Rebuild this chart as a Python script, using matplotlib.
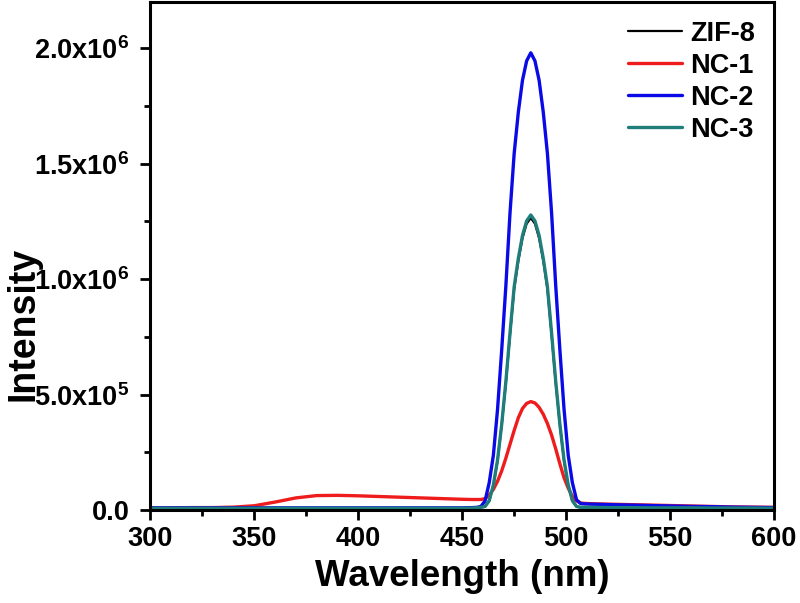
import matplotlib
matplotlib.use("Agg")
import matplotlib.pyplot as plt
from matplotlib.ticker import MultipleLocator, FixedLocator

plt.rcParams['font.family'] = ['Liberation Sans', 'DejaVu Sans']
plt.rcParams['font.weight'] = 'bold'
plt.rcParams['mathtext.fontset'] = 'custom'
plt.rcParams['mathtext.rm'] = 'Liberation Sans:bold'
plt.rcParams['mathtext.bf'] = 'Liberation Sans:bold'
plt.rcParams['mathtext.it'] = 'Liberation Sans:bold'

# Wavelength grid (nm)
wavelength = [300, 310, 320, 330, 340, 350, 360, 370, 380, 390, 400, 410, 420, 430, 440, 450, 455, 457,
              459, 461, 463, 465, 467, 469, 471, 473, 475, 477, 479, 481, 483, 485, 487, 489, 491, 493,
              495, 497, 499, 501, 503, 505, 507,
              509, 512, 520, 530, 540, 550, 560, 570, 580, 590, 600]

# Intensities in units of 1e6
zif8 = [0.008] * 16 + [0.009, 0.010] + \
       [0.012, 0.015, 0.040, 0.107, 0.214, 0.367, 0.550, 0.759, 0.957, 1.079, 1.177, 1.240, 1.265,
        1.240, 1.177, 1.079, 0.957, 0.759, 0.550, 0.367, 0.214, 0.107, 0.040, 0.015, 0.012] + \
       [0.012, 0.012, 0.011, 0.011, 0.010, 0.010, 0.010, 0.009, 0.009, 0.009, 0.008]

nc1 = [0.010, 0.010, 0.011, 0.011, 0.013, 0.019, 0.035, 0.053, 0.063, 0.064, 0.062, 0.059, 0.056, 0.053,
       0.050, 0.047, 0.046, 0.046] + \
      [0.046, 0.050, 0.065, 0.090, 0.125, 0.170, 0.225, 0.285, 0.345, 0.400, 0.440, 0.462, 0.470,
       0.464, 0.445, 0.415, 0.375, 0.325, 0.265, 0.200, 0.140, 0.095, 0.060, 0.040, 0.031] + \
      [0.029, 0.028, 0.026, 0.024, 0.022, 0.020, 0.018, 0.016, 0.014, 0.013, 0.012]

nc2 = [0.010] * 16 + [0.011, 0.012] + \
      [0.016, 0.040, 0.119, 0.238, 0.436, 0.693, 0.970, 1.287, 1.544, 1.723, 1.861, 1.945, 1.980,
       1.945, 1.861, 1.723, 1.544, 1.287, 0.970, 0.693, 0.436, 0.238, 0.119, 0.045, 0.028] + \
      [0.027, 0.026, 0.024, 0.022, 0.020, 0.018, 0.016, 0.015, 0.013, 0.012, 0.011]

nc3 = [0.008] * 16 + [0.009, 0.010] + \
      [0.012, 0.016, 0.041, 0.109, 0.217, 0.371, 0.556, 0.767, 0.967, 1.090, 1.189, 1.252, 1.278,
       1.252, 1.189, 1.090, 0.967, 0.767, 0.556, 0.371, 0.217, 0.109, 0.041, 0.016, 0.012] + \
      [0.012, 0.012, 0.011, 0.011, 0.010, 0.010, 0.010, 0.009, 0.009, 0.009, 0.008]

series_names = ['ZIF-8', 'NC-1', 'NC-2', 'NC-3']
series_colors = ['#000000', '#ee1c1c', '#0a0ae6', '#1f7d7a']

ytick_vals = [0, 0.5e6, 1.0e6, 1.5e6, 2.0e6]
ytick_labels = ['0.0', '5.0x10$^{5}$', '1.0x10$^{6}$', '1.5x10$^{6}$', '2.0x10$^{6}$']

fig = plt.figure(figsize=(8.0, 6.03), dpi=100)
ax = fig.add_axes([0.188, 0.154, 0.7795, 0.8427])

data = [zif8, nc1, nc2, nc3]
widths = [1.6, 2.4, 2.4, 2.4]
for vals, name, col, lw in zip(data, series_names, series_colors, widths):
    ax.plot(wavelength, [v * 1e6 for v in vals], color=col, lw=lw, label=name,
            solid_joinstyle='round', solid_capstyle='round')

ax.set_xlim(300, 600)
ax.set_ylim(0, 2.2e6)
ax.xaxis.set_major_locator(MultipleLocator(50))
ax.xaxis.set_minor_locator(MultipleLocator(25))
ax.yaxis.set_major_locator(FixedLocator(ytick_vals))
ax.set_yticklabels(ytick_labels)
ax.yaxis.set_minor_locator(MultipleLocator(0.25e6))

for s in ax.spines.values():
    s.set_linewidth(2.2)
ax.tick_params(which='major', direction='out', length=7.5, width=2.0, labelsize=19.5)
ax.tick_params(axis='x', which='major', pad=4)
ax.tick_params(axis='y', which='major', pad=7.5)
ax.tick_params(which='minor', direction='out', length=4.5, width=2.0)
for lab in ax.get_xticklabels() + ax.get_yticklabels():
    lab.set_fontweight('bold')

ax.set_xlabel('Wavelength (nm)', fontsize=26.5, fontweight='bold', labelpad=5)
ax.set_ylabel('Intensity', fontsize=27, fontweight='bold')
ax.yaxis.set_label_coords(-0.174, 0.366)

leg = ax.legend(loc='upper right', frameon=False, fontsize=19.5, handlelength=2.0,
                labelspacing=0.22, handletextpad=0.3, borderaxespad=0.3)
for t in leg.get_texts():
    t.set_fontweight('bold')

fig.savefig('out.png', dpi=100)
